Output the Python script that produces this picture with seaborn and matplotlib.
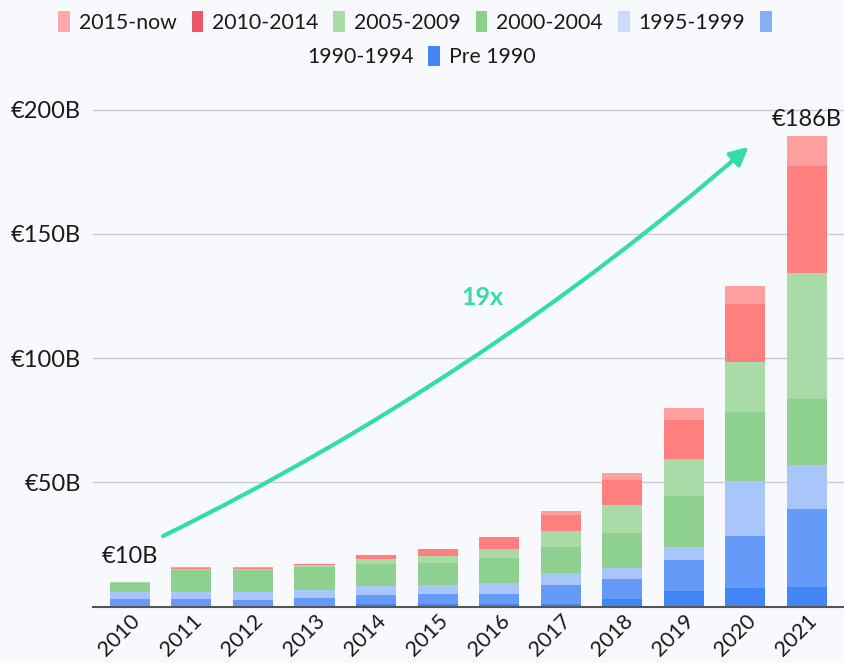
import matplotlib
matplotlib.use("Agg")
import matplotlib.pyplot as plt
from matplotlib.patches import Patch
import seaborn as sns
import pandas as pd

years = [2010, 2011, 2012, 2013, 2014, 2015, 2016, 2017, 2018, 2019, 2020, 2021]
cohorts = ["2015-now", "2010-2014", "2005-2009", "2000-2004", "1995-1999", "1990-1994", "Pre 1990"]

v_2015_now = [0.0, 0.1, 0.1, 0.1, 0.2, 0.2, 0.3, 1.6, 2.7, 4.8, 7.4, 11.7]
v_2010_2014 = [0.0, 0.4, 0.4, 0.5, 1.6, 2.9, 4.7, 6.4, 10.1, 15.8, 23.3, 43.3]
v_2005_2009 = [0.3, 0.4, 0.4, 0.5, 2.0, 2.7, 3.5, 6.2, 11.1, 15.0, 20.1, 50.5]
v_2000_2004 = [3.8, 9.0, 8.9, 9.4, 9.0, 9.0, 10.2, 10.7, 14.1, 20.6, 27.8, 26.8]
v_1995_1999 = [2.9, 2.9, 3.5, 3.1, 3.5, 3.5, 4.4, 4.8, 4.5, 5.1, 22.1, 17.4]
v_1990_1994 = [2.8, 2.8, 2.3, 3.4, 3.6, 4.0, 3.9, 7.5, 8.0, 12.5, 20.8, 31.5]
v_pre_1990 = [0.2, 0.2, 0.2, 0.2, 1.1, 1.1, 1.2, 1.2, 3.1, 6.3, 7.6, 8.0]

ytick_vals = [50, 100, 150, 200]
ytick_labels = ["€50B", "€100B", "€150B", "€200B"]
start_label = "€10B"
end_label = "€186B"
growth_label = "19x"

series = [v_2015_now, v_2010_2014, v_2005_2009, v_2000_2004, v_1995_1999, v_1990_1994, v_pre_1990]
bar_colors = ["#ffa0a0", "#ff7f7f", "#a8dba8", "#8ed08f", "#a8c6fa", "#659af8", "#4285f4"]
legend_colors = ["#ffa8a8", "#ee5766", "#a8dca8", "#8cce8c", "#c8dcfc", "#86aef5", "#4285f4"]

rows = []
for name, vals in zip(cohorts, series):
    for y, v in zip(years, vals):
        rows.append({"year": y, "cohort": name, "value": v})
df = pd.DataFrame(rows)

sns.set_theme(style="white")
plt.rcParams["font.family"] = ["Lato", "DejaVu Sans"]
bg = "#f8f9fd"
txt = "#1a1a1a"

fig = plt.figure(figsize=(8.44, 6.63), dpi=100, facecolor=bg)
ax = fig.add_axes([0.110, 0.0849, 0.890, 0.7873])
ax.set_facecolor(bg)

sns.histplot(data=df, x="year", weights="value", hue="cohort", hue_order=cohorts,
             multiple="stack", discrete=True, shrink=0.65, palette=dict(zip(cohorts, bar_colors)),
             alpha=1, linewidth=0, edgecolor="none", legend=False, ax=ax)

ax.set_xlim(years[0] - 0.6, years[-1] + 0.6)
ax.set_ylim(0, 210)
ax.set_yticks(ytick_vals)
ax.set_yticklabels(ytick_labels, fontsize=17, color=txt)
ax.set_xticks(years)
ax.set_xticklabels([str(y) for y in years], fontsize=15.5, color=txt,
                   rotation=45, ha="right", rotation_mode="anchor")
ax.tick_params(axis="both", length=0)
ax.tick_params(axis="y", pad=8.5)
ax.tick_params(axis="x", pad=3)
ax.set_xlabel("")
ax.set_ylabel("")
ax.yaxis.grid(True, color="#cccccc", linewidth=1)
ax.set_axisbelow(True)
for s in ["top", "right", "left"]:
    ax.spines[s].set_visible(False)
ax.spines["bottom"].set_color("#555555")
ax.spines["bottom"].set_linewidth(1.5)

totals = [sum(s[i] for s in series) for i in range(len(years))]
ax.text(years[0], totals[0] + 6, start_label, ha="center", va="bottom", fontsize=17, color=txt)
ax.text(years[-1], totals[-1] + 2.5, end_label, ha="center", va="bottom", fontsize=17, color=txt)

teal = "#33ddaa"
ax.annotate("", xy=(years[-2] + 0.05, 185), xytext=(years[0] + 0.54, 28.4),
            arrowprops=dict(arrowstyle="-|>,head_length=0.9,head_width=0.45", color=teal, lw=3,
                            connectionstyle="arc3,rad=0.065", shrinkA=0, shrinkB=0))
ax.text(2015.72, 124.6, growth_label, ha="center", va="center", fontsize=18,
        fontweight="bold", color=teal)

h = [Patch(facecolor=c, edgecolor="none") for c in legend_colors]
leg_kw = dict(frameon=False, fontsize=15.3, handlelength=0.55, handleheight=1.12,
              handletextpad=0.42, columnspacing=0.7, borderpad=0.15)
leg1 = fig.legend(handles=h[:6], labels=cohorts[:5] + [""], ncol=6, loc="upper center",
                  bbox_to_anchor=(0.497, 1.004), **leg_kw)
for t in leg1.get_texts():
    t.set_color(txt)
invis = Patch(facecolor="none", edgecolor="none")
leg2 = fig.legend(handles=[invis, h[6]], labels=[cohorts[5], cohorts[6]], ncol=2, loc="upper center",
                  bbox_to_anchor=(0.487, 0.952), **leg_kw)
for t in leg2.get_texts():
    t.set_color(txt)

fig.savefig("out.png", dpi=100, facecolor=bg)
